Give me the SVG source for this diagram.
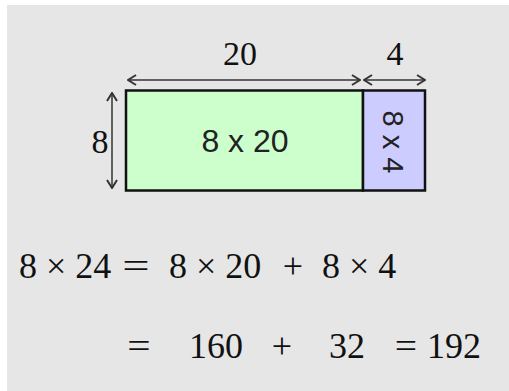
<svg xmlns="http://www.w3.org/2000/svg" width="509" height="391" viewBox="0 0 509 391">
<defs>
<style>
.dim{stroke:#333;stroke-width:1.5;fill:none;}
.box{stroke:#111;stroke-width:2.5;}
</style>
<marker id="ah" viewBox="0 0 10 12" refX="9" refY="6" markerWidth="10" markerHeight="12" markerUnits="userSpaceOnUse" orient="auto-start-reverse">
<path d="M1,1 L9,6 L1,11" fill="none" stroke="#333" stroke-width="2"/>
</marker>
</defs>
<rect x="0" y="0" width="509" height="391" fill="#ffffff"/>
<rect x="7" y="5" width="502" height="386" fill="#e6e6e6"/>
<g id="connectors">
<line class="dim" x1="128" y1="80" x2="360" y2="80" marker-start="url(#ah)" marker-end="url(#ah)"/>
<line class="dim" x1="364" y1="80" x2="425" y2="80" marker-start="url(#ah)" marker-end="url(#ah)"/>
<line class="dim" x1="112" y1="93" x2="112" y2="188" marker-start="url(#ah)" marker-end="url(#ah)"/>
</g>
<g id="node-green">
<rect class="box" x="126" y="90.5" width="237" height="100" fill="#ccffcc"/>
<text fill="#222" font-family="Liberation Sans, Arial, sans-serif" x="245" y="152" font-size="32" text-anchor="middle">8 x 20</text>
</g>
<g id="node-purple">
<rect class="box" x="363" y="90.5" width="62" height="100" fill="#ccccff"/>
<text fill="#222" font-family="Liberation Sans, Arial, sans-serif" x="0" y="0" font-size="29" text-anchor="middle" transform="translate(383,142) rotate(90)">8 x 4</text>
</g>
<g id="labels" font-family="Times New Roman, Liberation Serif, serif" fill="#111" font-size="34" text-anchor="middle">
<text x="240" y="65">20</text>
<text x="395" y="65">4</text>
<text x="100" y="153">8</text>
</g>
<g id="equations" font-family="Times New Roman, Liberation Serif, serif" fill="#111" font-size="36">
<text x="19" y="278">8 × 24</text>
<text x="136" y="278" text-anchor="middle" transform="translate(136,0) scale(1.35,1) translate(-136,0)">=</text>
<text x="169" y="278">8 × 20</text>
<text x="293" y="278" text-anchor="middle">+</text>
<text x="322" y="278">8 × 4</text>
<text x="139" y="358" text-anchor="middle" transform="translate(139,0) scale(1.15,1) translate(-139,0)">=</text>
<text x="189" y="358">160</text>
<text x="282" y="358" text-anchor="middle">+</text>
<text x="329" y="358">32</text>
<text x="406" y="358" text-anchor="middle" transform="translate(406,0) scale(1.1,1) translate(-406,0)">=</text>
<text x="427" y="358">192</text>
</g>
</svg>
